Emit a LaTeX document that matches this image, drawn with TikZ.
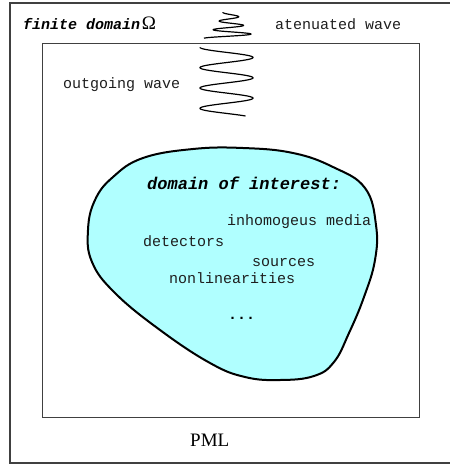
\documentclass[tikz,border=0pt]{standalone}
\usepackage{fontspec}
\setmainfont{Liberation Serif}
\setmonofont{Liberation Mono}
\definecolor{blobfill}{RGB}{176,255,255}
\definecolor{boxline}{RGB}{64,64,64}
\definecolor{txt}{RGB}{30,30,30}
\begin{document}
\begin{tikzpicture}[x=1pt,y=-1pt,
  mono/.style={font=\fontsize{15}{15}\selectfont\ttfamily, text=txt, inner sep=0pt, anchor=base west},
  monobold/.style={font=\fontsize{17}{17}\selectfont\ttfamily\bfseries\itshape, text=black, inner sep=0pt, anchor=base west},
  serif/.style={font=\fontsize{19}{19}\selectfont\rmfamily, text=black, inner sep=0pt, anchor=base west},
  frame/.style={draw=boxline, line width=1.2pt},
  wave/.style={line width=1.2pt, black}]
\useasboundingbox (0,0) rectangle (450,464);
% PML outer box (right side runs off the picture)
\draw[frame] (10,3) rectangle (456,463);
% finite domain box
\draw[frame] (42.7,43.3) rectangle (419.3,417.7);
% domain of interest blob
\draw[line width=2pt, fill=blobfill] plot[smooth cycle, tension=0.7] coordinates {
 (88,230) (95,200) (113,177) (143,158) (193,149) (243,148) (293,153) (333,167)
 (365,188) (376,225) (375,260) (364,297) (349,333) (334,362) (314,376) (280,380)
 (245,377) (210,363) (160,330) (115,293) (92,262)};
% outgoing wave
\draw[wave] plot[domain=47.3:116, samples=500, smooth]
  ({226.5 - 26.5*cos(180*(\x-47.3)/10.17)}, \x);
% attenuated wave
\draw[wave] plot[domain=12.3:38.3, samples=400, smooth]
  ({230 - 26*exp(-0.0505*(38.3-\x))*cos(180*(\x-12.3)/4.333)}, \x);
% labels
\node (fd) [inner sep=0pt, anchor=base west] at (23,29)
  {{\fontsize{15}{15}\selectfont\ttfamily\bfseries\itshape finite domain}\,{\fontsize{19}{19}\selectfont\rmfamily Ω}};
\node (att) [mono] at (275,29) {atenuated wave};
\node (out) [mono] at (63,88) {outgoing wave};
\node (doi) [monobold] at (147,189) {domain of interest:};
\node (inh) [mono] at (227,225) {inhomogeus media};
\node (det) [mono] at (143,246.7) {detectors};
\node (src) [mono] at (252,266) {sources};
\node (nonl) [mono] at (169,283.3) {nonlinearities};
\node (dots) [mono, font=\fontsize{15}{15}\selectfont\ttfamily\bfseries, text=black] at (228,319.3) {...};
\node (pml) [serif] at (190,446) {PML};
\end{tikzpicture}
\end{document}
